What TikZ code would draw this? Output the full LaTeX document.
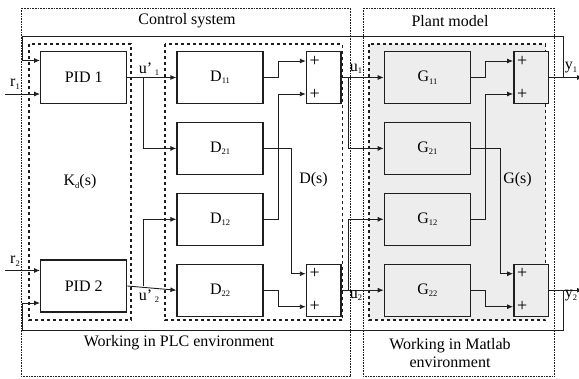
\documentclass[tikz,border=0pt]{standalone}
\usepackage{fontspec}
\setmainfont{Liberation Serif}
\usepackage{tikz}
\usetikzlibrary{arrows.meta,positioning}
\definecolor{linegray}{RGB}{30, 30, 30}
\definecolor{plantfill}{RGB}{237, 237, 237}
\newcommand{\lowidx}[1]{\raisebox{-2.5pt}{\fontsize{8.5}{8.5}\selectfont #1}}
\tikzset{
 block/.style={
 rectangle,
 draw=linegray,
 line width=1.4pt,
 minimum width=86pt,
 minimum height=52pt,
 inner sep=0pt,
 font=\fontsize{16}{18}\selectfont
 },
 sumbox/.style={
 rectangle,
 draw=linegray,
 line width=1.4pt,
 minimum width=34.5pt,
 minimum height=52pt,
 inner sep=0pt
 },
 plus/.style={inner sep=0pt, font=\fontsize{18}{18}\selectfont},
 lbl/.style={inner sep=0pt, font=\fontsize{16}{18}\selectfont},
 title/.style={inner sep=0pt, align=center, font=\fontsize{16}{18}\selectfont},
 sig/.style={-{Latex[length=6pt,width=5pt]}, line width=0.9pt, draw=linegray},
 frame/.style={line width=1.6pt, draw=linegray, dash pattern=on 3pt off 3pt},
 zone/.style={line width=0.6pt, draw=linegray, dash pattern=on 0.8pt off 0.8pt}
}
\begin{document}
\begin{tikzpicture}[x=1pt, y=-1pt]
 \useasboundingbox (0,0) rectangle (579,378);

 % outer regions
 \draw[zone] (21,8) rectangle (350.7,376);
 \draw[zone] (363.3,8) rectangle (554.5,376);
 \node[title] (ctrl) at (187,21) {Control system};
 \node[title] (plant) at (450,21) {Plant model};
 \node[title] (plc) at (179,343) {Working in PLC environment};
 \node[title] (mat) at (450,353) {Working in Matlab\\[0pt] environment};

 % dashed groups
 \draw[frame] (29,44) rectangle (131,320);
 \draw[frame] (165,44) rectangle (342.5,320);
 \draw[frame, fill=plantfill] (369,44) rectangle (545.5,320);

 % controllers
 \node[block] (pid1) at (83.7,77.5) {PID 1};
 \node[block] (pid2) at (83.7,286) {PID 2};
 \node[lbl] (kd) at (80,182) {K\lowidx{d}(s)};

 % decoupler
 \node[block, right=49pt of pid1] (d11) {D\lowidx{11}};
 \node[block, below=17.5pt of d11] (d21) {D\lowidx{21}};
 \node[block, below=17.5pt of d21] (d12) {D\lowidx{12}};
 \node[block, below=17.5pt of d12] (d22) {D\lowidx{22}};
 \node[sumbox, right=42pt of d11] (s1) {};
 \node[sumbox, right=42pt of d22] (s2) {};
 \node[lbl] (ds) at (313.5,180) {D(s)};

 % plant
 \node[block, fill=plantfill, right=42pt of s1] (g11) {G\lowidx{11}};
 \node[block, fill=plantfill, below=17.5pt of g11] (g21) {G\lowidx{21}};
 \node[block, fill=plantfill, below=17.5pt of g21] (g12) {G\lowidx{12}};
 \node[block, fill=plantfill, below=17.5pt of g12] (g22) {G\lowidx{22}};
 \node[sumbox, fill=plantfill, right=42pt of g11] (gs1) {};
 \node[sumbox, fill=plantfill, right=42pt of g22] (gs2) {};
 \node[lbl] (gs) at (517.5,180) {G(s)};

 % plus signs
 \node[plus] (s1a) at ([xshift=9pt,yshift=16.5pt]s1.west) {+};
 \node[plus] (s1b) at ([xshift=9pt,yshift=-16.5pt]s1.west) {+};
 \node[plus] (s2a) at ([xshift=9pt,yshift=16.5pt]s2.west) {+};
 \node[plus] (s2b) at ([xshift=9pt,yshift=-16.5pt]s2.west) {+};
 \node[plus] (gs1a) at ([xshift=9pt,yshift=16.5pt]gs1.west) {+};
 \node[plus] (gs1b) at ([xshift=9pt,yshift=-16.5pt]gs1.west) {+};
 \node[plus] (gs2a) at ([xshift=9pt,yshift=16.5pt]gs2.west) {+};
 \node[plus] (gs2b) at ([xshift=9pt,yshift=-16.5pt]gs2.west) {+};

 % branch points and ends
 \coordinate (r1in) at ([xshift=-34.7pt,yshift=-16.5pt]pid1.west);
 \coordinate (r2in) at ([xshift=-34.7pt,yshift=15.5pt]pid2.west);
 \coordinate (b1) at ([xshift=16pt]pid1.east);
 \coordinate (b2) at ([xshift=16pt]pid2.east);
 \coordinate (c1) at ([xshift=7pt]s1.east);
 \coordinate (c2) at ([xshift=7pt]s2.east);
 \coordinate (out1) at ([xshift=34pt]gs1.east);
 \coordinate (out2) at ([xshift=34pt]gs2.east);
 \coordinate (fb1) at ([xshift=14.5pt]gs1.east);
 \coordinate (fb2) at ([xshift=14.5pt]gs2.east);

 % references
 \draw[sig] (r1in) -- ([yshift=-16.5pt]pid1.west);
 \draw[sig] (r2in) -- ([yshift=15.5pt]pid2.west);
 \node[lbl] (r1) at (15,84) {r\lowidx{1}};
 \node[lbl] (r2) at (15,261) {r\lowidx{2}};

 % controller outputs
 \draw[sig] (pid1.east) -- (d11.west);
 \draw[sig] (b1) |- (d21.west);
 \draw[sig] (pid2.east) -- (d22.west);
 \draw[sig] (b2) |- (d12.west);
 \node[lbl] (up1) at (149,69) {u\textquoteright\,\lowidx{1}};
 \node[lbl] (up2) at (149,296) {u\textquoteright\,\lowidx{2}};

 % decoupler to sums
 \draw[sig] (d11.east) -- ++(14.7,0) |- (s1a.west -| s1.west);
 \draw[sig] (d12.east) -- ++(14.7,0) |- (s1b.west -| s1.west);
 \draw[sig] (d21.east) -- ++(28,0) |- (s2a.west -| s2.west);
 \draw[sig] (d22.east) -- ++(14.7,0) |- (s2b.west -| s2.west);

 % manipulated variables
 \draw[sig] (s1.east) -- (g11.west);
 \draw[sig] (c1) |- (g21.west);
 \draw[sig] (s2.east) -- (g22.west);
 \draw[sig] (c2) |- (g12.west);
 \node[lbl] (u1) at (356,69) {u\lowidx{1}};
 \node[lbl] (u2) at (356,296) {u\lowidx{2}};

 % plant to sums
 \draw[sig] (g11.east) -- ++(14,0) |- (gs1a.west -| gs1.west);
 \draw[sig] (g12.east) -- ++(14,0) |- (gs1b.west -| gs1.west);
 \draw[sig] (g21.east) -- ++(29,0) |- (gs2a.west -| gs2.west);
 \draw[sig] (g22.east) -- ++(14,0) |- (gs2b.west -| gs2.west);

 % outputs and feedback
 \draw[sig] (gs1.east) -- (out1);
 \draw[sig] (gs2.east) -- (out2);
 \node[lbl] (y1) at (571,68) {y\lowidx{1}};
 \node[lbl] (y2) at (571,296) {y\lowidx{2}};
 \draw[sig] (fb1) -- ++(0,-40.8) -| ([xshift=-17.7pt,yshift=17pt]pid1.west) -- ([yshift=17pt]pid1.west);
 \draw[sig] (fb2) -- ++(0,40) -| ([xshift=-17.7pt,yshift=-17pt]pid2.west) -- ([yshift=-17pt]pid2.west);
\end{tikzpicture}
\end{document}
